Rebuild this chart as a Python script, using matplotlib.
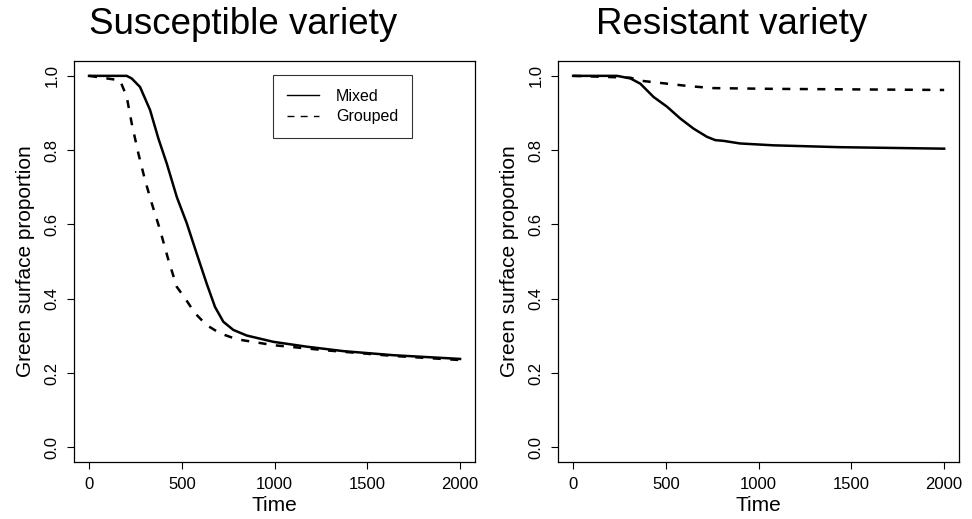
import matplotlib
matplotlib.use("Agg")
import matplotlib.pyplot as plt
from matplotlib.lines import Line2D

plt.rcParams['font.family'] = ['Liberation Sans', 'DejaVu Sans']
plt.rcParams['lines.scale_dashes'] = False

# Susceptible variety
sus_mixed_t = [0, 203, 230, 275, 329, 374, 419, 473, 527, 580, 634, 679, 724, 778, 850, 994, 1173, 1371, 1641, 2000]
sus_mixed_y = [1.0, 1.0, 0.993, 0.970, 0.908, 0.831, 0.764, 0.674, 0.603, 0.522, 0.441, 0.378, 0.338, 0.316, 0.301, 0.284, 0.271, 0.259, 0.248, 0.238]
sus_grouped_t = [0, 167, 203, 230, 266, 302, 338, 383, 428, 473, 518, 571, 634, 706, 796, 994, 1281, 1641, 2000]
sus_grouped_y = [1.0, 0.988, 0.944, 0.872, 0.791, 0.719, 0.657, 0.585, 0.504, 0.432, 0.401, 0.361, 0.329, 0.307, 0.291, 0.275, 0.261, 0.246, 0.235]

# Resistant variety
res_mixed_t = [0, 237, 309, 362, 434, 506, 578, 649, 721, 766, 811, 900, 1080, 1439, 2000]
res_mixed_y = [1.0, 1.0, 0.993, 0.979, 0.943, 0.917, 0.885, 0.858, 0.836, 0.827, 0.825, 0.818, 0.813, 0.808, 0.804]
res_grouped_t = [0, 309, 362, 506, 631, 757, 1080, 2000]
res_grouped_y = [1.0, 0.995, 0.987, 0.979, 0.972, 0.967, 0.965, 0.962]

titles = ["Susceptible variety", "Resistant variety"]
x_ticks = [0, 500, 1000, 1500, 2000]
y_ticks = [0.0, 0.2, 0.4, 0.6, 0.8, 1.0]
y_ticklabels = ["0.0", "0.2", "0.4", "0.6", "0.8", "1.0"]
legend_labels = ["Mixed", "Grouped"]

fig = plt.figure(figsize=(9.72, 5.19), dpi=100)
W, H = 972, 519
axes_px = [(74.2, 474.9), (558.3, 959.0)]
top_px, bot_px = 61.0, 462.2
dash = (0, (5.8, 6.8))

data = [
    (sus_mixed_t, sus_mixed_y, sus_grouped_t, sus_grouped_y),
    (res_mixed_t, res_mixed_y, res_grouped_t, res_grouped_y),
]
title_x = [243, 732]

for i, (l, r) in enumerate(axes_px):
    ax = fig.add_axes([l / W, 1 - bot_px / H, (r - l) / W, (bot_px - top_px) / H])
    mt, my, gt, gy = data[i]
    ax.plot(mt, my, color='black', lw=1.8, solid_joinstyle='round')
    ax.plot(gt, gy, color='black', lw=1.8, linestyle=dash)
    ax.set_xlim(-80, 2080)
    ax.set_ylim(-0.04, 1.04)
    ax.set_xticks(x_ticks)
    ax.set_xticklabels([str(v) for v in x_ticks])
    ax.set_yticks(y_ticks)
    ax.set_yticklabels(y_ticklabels, rotation=90, va='center')
    ax.tick_params(axis='both', direction='out', length=5.2, width=0.8, labelsize=12)
    ax.tick_params(axis='x', pad=5.5)
    ax.tick_params(axis='y', pad=5.5)
    for s in ax.spines.values():
        s.set_linewidth(0.9)
    ax.set_xlabel("Time", fontsize=15, labelpad=3)
    ax.set_ylabel("Green surface proportion", fontsize=15, labelpad=7)
    fig.text(title_x[i] / W, 1 - 25 / H, titles[i], fontsize=26.5, ha='center', va='center')
    if i == 0:
        handles = [Line2D([], [], color='black', lw=1.0),
                   Line2D([], [], color='black', lw=1.0, linestyle=(0, (5, 4.5)))]
        leg = ax.legend(handles, legend_labels, loc='upper left',
                        bbox_to_anchor=((273 - l) / (r - l), (bot_px - 75) / (bot_px - top_px)),
                        fontsize=11.5, frameon=True, fancybox=False, edgecolor='black',
                        handlelength=2.0, handletextpad=1.1, borderpad=0.85, labelspacing=0.35,
                        borderaxespad=0)
        leg.get_frame().set_linewidth(0.8)

fig.savefig("out.png", dpi=100)
